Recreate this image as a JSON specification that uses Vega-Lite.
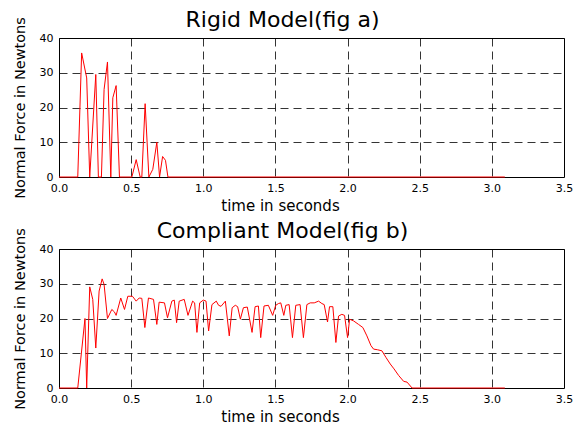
{
  "$schema": "https://vega.github.io/schema/vega-lite/v6.json",
  "background": "white",
  "padding": {"left": 11, "top": 8, "right": 5, "bottom": 5},
  "spacing": 72,
  "bounds": "flush",
  "config": {
    "font": "DejaVu Sans",
    "view": {"stroke": "black", "strokeWidth": 1},
    "axis": {"grid": true, "gridColor": "black", "gridDash": [8, 5], "gridOpacity": 1, "gridWidth": 0.8, "domain": false, "ticks": false, "labelColor": "black", "labelFontSize": 11, "titleColor": "black", "titleFontWeight": "normal", "titleFontSize": 15},
    "title": {"fontSize": 22, "fontWeight": "normal", "color": "black"}
  },
  "datasets": {
    "rigid": [
      {"t": 0, "f": 0}, {"t": 0.13, "f": 0}, {"t": 0.157, "f": 35.7}, {"t": 0.192, "f": 28.5}, {"t": 0.213, "f": 0},
      {"t": 0.255, "f": 29.5}, {"t": 0.273, "f": 0}, {"t": 0.294, "f": 0}, {"t": 0.3125, "f": 25.2}, {"t": 0.336, "f": 33.1},
      {"t": 0.359, "f": 0}, {"t": 0.373, "f": 22.8}, {"t": 0.396, "f": 26.3}, {"t": 0.419, "f": 0}, {"t": 0.505, "f": 0},
      {"t": 0.535, "f": 5}, {"t": 0.5625, "f": 0}, {"t": 0.574, "f": 0}, {"t": 0.597, "f": 21.1}, {"t": 0.623, "f": 0},
      {"t": 0.65, "f": 2.2}, {"t": 0.678, "f": 10}, {"t": 0.697, "f": 0}, {"t": 0.718, "f": 5.9}, {"t": 0.738, "f": 4.8},
      {"t": 0.755, "f": 0}, {"t": 3.09, "f": 0}
    ],
    "compliant": [
      {"t": 0, "f": 0}, {"t": 0.13, "f": 0}, {"t": 0.18, "f": 20}, {"t": 0.192, "f": 0}, {"t": 0.213, "f": 29.1},
      {"t": 0.234, "f": 25.5}, {"t": 0.255, "f": 11.5}, {"t": 0.278, "f": 27.9}, {"t": 0.299, "f": 31.4}, {"t": 0.3125, "f": 29.8},
      {"t": 0.336, "f": 20}, {"t": 0.366, "f": 22.6}, {"t": 0.384, "f": 21.9}, {"t": 0.396, "f": 20.9}, {"t": 0.428, "f": 25.9},
      {"t": 0.454, "f": 22.6}, {"t": 0.477, "f": 26.4}, {"t": 0.509, "f": 26.4}, {"t": 0.535, "f": 25}, {"t": 0.556, "f": 25.9},
      {"t": 0.574, "f": 25.8}, {"t": 0.595, "f": 17.4}, {"t": 0.62, "f": 25.9}, {"t": 0.655, "f": 25.5}, {"t": 0.678, "f": 18.3},
      {"t": 0.694, "f": 24.7}, {"t": 0.731, "f": 24.5}, {"t": 0.752, "f": 20.2}, {"t": 0.782, "f": 25}, {"t": 0.799, "f": 25.3},
      {"t": 0.815, "f": 18.8}, {"t": 0.833, "f": 25}, {"t": 0.868, "f": 25.5}, {"t": 0.894, "f": 20.9}, {"t": 0.926, "f": 25},
      {"t": 0.94, "f": 24.5}, {"t": 0.956, "f": 16}, {"t": 0.975, "f": 24.5}, {"t": 1.0, "f": 25.3}, {"t": 1.019, "f": 25},
      {"t": 1.037, "f": 16.4}, {"t": 1.06, "f": 24}, {"t": 1.09, "f": 25}, {"t": 1.106, "f": 23.8}, {"t": 1.123, "f": 23.5},
      {"t": 1.153, "f": 25}, {"t": 1.18, "f": 15}, {"t": 1.2, "f": 23.1}, {"t": 1.222, "f": 23.8}, {"t": 1.238, "f": 23.4},
      {"t": 1.257, "f": 19.8}, {"t": 1.278, "f": 23.1}, {"t": 1.305, "f": 23.3}, {"t": 1.338, "f": 16}, {"t": 1.359, "f": 23.4},
      {"t": 1.382, "f": 23.6}, {"t": 1.398, "f": 14.5}, {"t": 1.421, "f": 23.6}, {"t": 1.451, "f": 23.8}, {"t": 1.481, "f": 20.9},
      {"t": 1.502, "f": 23.8}, {"t": 1.521, "f": 24.3}, {"t": 1.537, "f": 24.5}, {"t": 1.558, "f": 20.9}, {"t": 1.572, "f": 23.8},
      {"t": 1.595, "f": 24}, {"t": 1.618, "f": 14.5}, {"t": 1.641, "f": 23.8}, {"t": 1.671, "f": 24}, {"t": 1.694, "f": 14.5},
      {"t": 1.718, "f": 24}, {"t": 1.741, "f": 24.5}, {"t": 1.769, "f": 24.5}, {"t": 1.799, "f": 25}, {"t": 1.822, "f": 24.3},
      {"t": 1.838, "f": 24}, {"t": 1.861, "f": 19}, {"t": 1.875, "f": 23.4}, {"t": 1.898, "f": 23.4}, {"t": 1.919, "f": 13.1},
      {"t": 1.9375, "f": 20.7}, {"t": 1.96, "f": 21.2}, {"t": 1.979, "f": 20.9}, {"t": 2.0, "f": 14.5}, {"t": 2.014, "f": 19.8},
      {"t": 2.042, "f": 19.3}, {"t": 2.076, "f": 18.3}, {"t": 2.106, "f": 17.4}, {"t": 2.134, "f": 15}, {"t": 2.162, "f": 12.2},
      {"t": 2.18, "f": 11.2}, {"t": 2.208, "f": 11}, {"t": 2.238, "f": 10.7}, {"t": 2.266, "f": 8.8}, {"t": 2.296, "f": 6.9},
      {"t": 2.322, "f": 5.5}, {"t": 2.354, "f": 3.6}, {"t": 2.389, "f": 1.9}, {"t": 2.412, "f": 1.7}, {"t": 2.447, "f": 0},
      {"t": 3.09, "f": 0}
    ]
  },
  "vconcat": [
    {
      "width": 505,
      "height": 139,
      "title": {"text": "Rigid Model(fig a)", "dx": -29, "offset": -15, "frame": "group"},
      "data": {"name": "rigid"},
      "mark": {"type": "line", "color": "#ff0000", "strokeWidth": 1},
      "encoding": {
        "x": {"field": "t", "type": "quantitative", "scale": {"domain": [0, 3.5], "nice": false, "zero": false},
          "axis": {"values": [0, 0.5, 1, 1.5, 2, 2.5, 3, 3.5], "title": "time in seconds", "labelPadding": 5, "labelFlush": false, "labelOverlap": false, "titleX": 221, "titleY": 33, "titleBaseline": "alphabetic"}},
        "y": {"field": "f", "type": "quantitative", "scale": {"domain": [0, 40], "nice": false},
          "axis": {"values": [0, 10, 20, 30, 40], "title": "Normal Force in Newtons", "titleFontSize": 14.5, "labelPadding": 6, "labelFlush": false, "titleX": -32}}
      }
    },
    {
      "width": 505,
      "height": 139,
      "title": {"text": "Compliant Model(fig b)", "dx": -29, "offset": -15, "frame": "group"},
      "data": {"name": "compliant"},
      "mark": {"type": "line", "color": "#ff0000", "strokeWidth": 1},
      "encoding": {
        "x": {"field": "t", "type": "quantitative", "scale": {"domain": [0, 3.5], "nice": false, "zero": false},
          "axis": {"values": [0, 0.5, 1, 1.5, 2, 2.5, 3, 3.5], "title": "time in seconds", "labelPadding": 5, "labelFlush": false, "labelOverlap": false, "titleX": 221, "titleY": 33, "titleBaseline": "alphabetic"}},
        "y": {"field": "f", "type": "quantitative", "scale": {"domain": [0, 40], "nice": false},
          "axis": {"values": [0, 10, 20, 30, 40], "title": "Normal Force in Newtons", "titleFontSize": 14.5, "labelPadding": 6, "labelFlush": false, "titleX": -32}}
      }
    }
  ]
}
